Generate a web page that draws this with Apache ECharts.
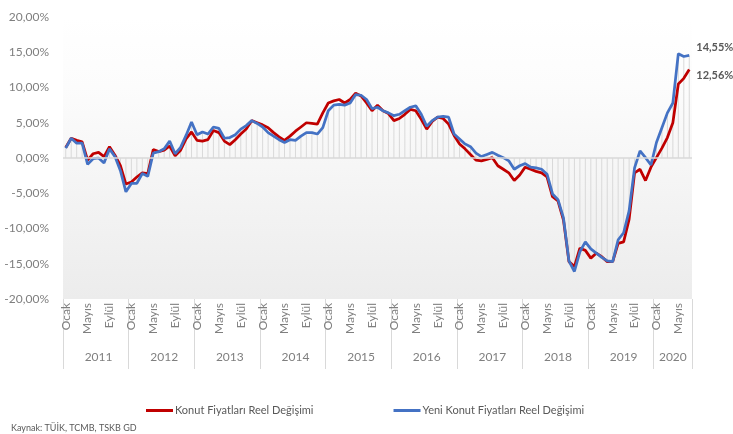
<!DOCTYPE html>
<html>
<head>
<meta charset="utf-8">
<script src="https://cdn.jsdelivr.net/npm/echarts@6/dist/echarts.min.js"></script>
<style>
  html, body { margin: 0; padding: 0; background: #fff; }
  #Chart { width: 733px; height: 434px; }
</style>
</head>
<body>
<div id="Chart"></div>
<script>
var years = [2011, 2012, 2013, 2014, 2015, 2016, 2017, 2018, 2019, 2020];
var monthNames = ['Ocak', 'Şubat', 'Mart', 'Nisan', 'Mayıs', 'Haziran', 'Temmuz', 'Ağustos', 'Eylül', 'Ekim', 'Kasım', 'Aralık'];
var monthCount = 115; // Ocak 2011 - Temmuz 2020

// Konut Fiyatları Reel Değişimi (%)
var konut = [
  1.5, 2.8, 2.5, 2.3, -0.3, 0.6, 0.8, 0.2, 1.6, 0.4, -1.1, -3.7,
  -3.4, -2.7, -2.1, -2.2, 1.2, 0.9, 1.1, 1.7, 0.3, 1.1, 2.7, 3.7,
  2.5, 2.4, 2.6, 3.9, 3.6, 2.4, 1.9, 2.6, 3.4, 4.1, 5.3, 5.0,
  4.7, 4.3, 3.6, 3.0, 2.5, 3.1, 3.8, 4.4, 5.0, 4.9, 4.8, 6.4,
  7.8, 8.1, 8.3, 7.8, 8.3, 9.2, 8.8, 7.8, 6.7, 7.5, 6.7, 6.3,
  5.3, 5.6, 6.2, 6.9, 6.7, 5.5, 4.1, 5.2, 5.8, 5.6, 4.8, 3.2,
  2.0, 1.3, 0.5, -0.3, -0.4, -0.2, 0.05, -1.1, -1.6, -2.1, -3.2, -2.4,
  -1.3, -1.6, -1.9, -2.1, -2.7, -5.5, -6.1, -8.8, -14.7, -15.4, -12.8, -13.1,
  -14.2, -13.5, -14.0, -14.7, -14.7, -12.1, -11.9, -8.7, -2.1, -1.6, -3.2, -1.3,
  0.05, 1.4, 2.9, 5.0, 10.5, 11.3, 12.56
];

// Yeni Konut Fiyatları Reel Değişimi (%)
var yeniKonut = [
  1.4, 2.8, 2.1, 2.1, -0.9, -0.1, 0.0, -0.7, 1.3, 0.2, -1.8, -4.8,
  -3.6, -3.6, -2.2, -2.6, 0.7, 0.9, 1.3, 2.4, 0.6, 1.5, 3.2, 5.1,
  3.3, 3.7, 3.4, 4.4, 4.2, 2.8, 2.9, 3.3, 4.1, 4.6, 5.3, 4.9,
  4.4, 3.6, 3.1, 2.6, 2.2, 2.6, 2.5, 3.1, 3.6, 3.6, 3.4, 4.3,
  6.7, 7.5, 7.6, 7.5, 7.8, 9.0, 8.9, 8.3, 7.0, 7.2, 6.7, 6.4,
  6.0, 6.2, 6.7, 7.2, 7.4, 6.2, 4.5, 5.3, 5.8, 5.9, 5.8, 3.4,
  2.7, 2.0, 1.6, 0.7, 0.2, 0.5, 0.8, 0.4, 0.05, -0.4, -1.6, -1.1,
  -0.8, -1.3, -1.4, -1.6, -2.3, -5.1, -5.9, -8.5, -14.6, -16.1, -13.3, -11.9,
  -12.9, -13.5, -14.1, -14.6, -14.7, -11.6, -10.6, -7.5, -1.4, 1.0, 0.05, -1.0,
  2.2, 4.3, 6.4, 7.8, 14.8, 14.4, 14.55
];

var categories = [];
for (var i = 0; i < monthCount; i++) {
  categories.push(monthNames[i % 12] + ' ' + years[Math.floor(i / 12)]);
}

function pct(v) {
  return Number(v).toFixed(2).replace('.', ',') + '%';
}

var font = 'Lato, "Open Sans", sans-serif';
var myChart = echarts.init(document.getElementById('Chart'));

var option = {
  animation: false,
  textStyle: { fontFamily: font },
  title: {
    text: 'Kaynak: TÜİK, TCMB, TSKB GD',
    left: 6,
    top: 419,
    textStyle: { fontSize: 9, fontWeight: 'normal', color: '#595959', fontFamily: font }
  },
  legend: {
    data: [
      { name: 'Konut Fiyatları Reel Değişimi', icon: 'rect' },
      { name: 'Yeni Konut Fiyatları Reel Değişimi', icon: 'rect' }
    ],
    left: 141,
    top: 400,
    itemWidth: 27,
    itemHeight: 3,
    itemGap: 80,
    textStyle: { fontSize: 11, color: '#595959', padding: [0, 0, 0, -3] }
  },
  grid: {
    left: 63,
    right: 41,
    top: 17,
    bottom: 135,
    show: true,
    borderWidth: 0,
    backgroundColor: new echarts.graphic.LinearGradient(0, 0, 0, 1, [
      { offset: 0, color: '#ffffff' },
      { offset: 0.25, color: '#fcfcfc' },
      { offset: 1, color: '#ececec' }
    ])
  },
  xAxis: [{
    type: 'category',
    data: categories,
    boundaryGap: true,
    axisLine: { show: false, onZero: false },
    axisTick: {
      show: true,
      interval: function (index) { return index % 12 === 0; },
      length: 70,
      lineStyle: { color: '#d9d9d9' }
    },
    axisLabel: {
      interval: function (index) { return index % 4 === 0; },
      rotate: 90,
      margin: 4,
      fontSize: 12,
      color: '#7f7f7f',
      formatter: function (v) { return v.split(' ')[0]; }
    }
  }, {
    type: 'category',
    data: categories,
    position: 'bottom',
    offset: 52,
    boundaryGap: true,
    axisLine: { show: false, onZero: false },
    axisTick: { show: false },
    axisLabel: {
      interval: function (index) {
        return (index % 12 === 6 && index < 108) || index === 111;
      },
      margin: 0,
      fontSize: 12,
      color: '#7f7f7f',
      formatter: function (v) { return v.split(' ')[1]; }
    }
  }],
  yAxis: {
    type: 'value',
    min: -20,
    max: 20,
    interval: 5,
    axisLine: { show: false },
    axisTick: { show: false },
    splitLine: { show: false },
    axisLabel: {
      margin: 14,
      fontSize: 12,
      color: '#7f7f7f',
      formatter: pct
    }
  },
  series: [{
    name: 'drop',
    type: 'bar',
    data: yeniKonut,
    barWidth: 1,
    itemStyle: { color: '#d9d9d9' },
    silent: true,
    markLine: {
      silent: true,
      symbol: 'none',
      label: { show: false },
      lineStyle: { color: '#d9d9d9', width: 1.5, type: 'solid' },
      data: [{ yAxis: 0 }]
    }
  }, {
    name: 'Konut Fiyatları Reel Değişimi',
    type: 'line',
    data: konut,
    showSymbol: false,
    lineStyle: { color: '#c00000', width: 2.75 },
    itemStyle: { color: '#c00000' },
    endLabel: {
      show: true,
      formatter: function (p) { return pct(p.value); },
      distance: 7,
      offset: [0, 6],
      fontSize: 11,
      fontWeight: 'bold',
      color: '#595959'
    }
  }, {
    name: 'Yeni Konut Fiyatları Reel Değişimi',
    type: 'line',
    data: yeniKonut,
    showSymbol: false,
    lineStyle: { color: '#4472c4', width: 2.75 },
    itemStyle: { color: '#4472c4' },
    endLabel: {
      show: true,
      formatter: function (p) { return pct(p.value); },
      distance: 7,
      offset: [0, -8],
      fontSize: 11,
      fontWeight: 'bold',
      color: '#595959'
    }
  }]
};

myChart.setOption(option);
</script>
</body>
</html>
